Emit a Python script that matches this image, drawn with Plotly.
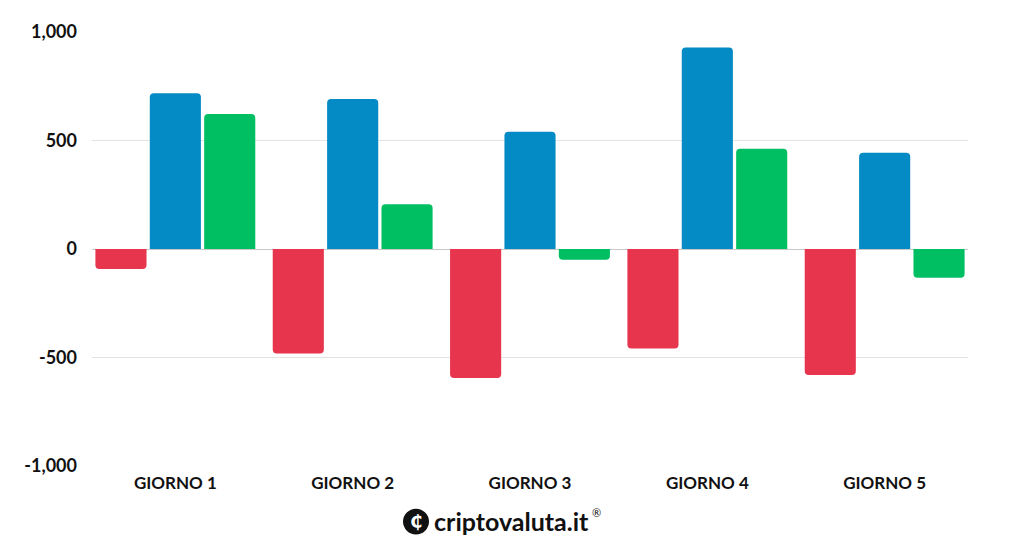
import plotly.graph_objects as go

categories = ["GIORNO 1", "GIORNO 2", "GIORNO 3", "GIORNO 4", "GIORNO 5"]
red_vals = [-92, -481, -595, -458, -581]
blue_vals = [718, 691, 540, 929, 444]
green_vals = [622, 206, -50, 462, -133]
tick_vals = [-1000, -500, 0, 500, 1000]
tick_text = ["-1,000", "-500", "0", "500", "1,000"]

FONT = "Lato"
# page has an 8px body offset; compensate in margins
L, T, R, B = 84, 21, 64, 88
W, H = 1024, 546
pw = W - L - R
ph = H - T - B

def px(x):
    return (x - 8 - L) / pw

def py(y):
    return 1 - (y - 8 - T) / ph

fig = go.Figure()
for vals, col in [(red_vals, "#E8354E"), (blue_vals, "#048AC4"), (green_vals, "#00BF63")]:
    fig.add_trace(go.Bar(x=categories, y=vals, marker=dict(color=col, line=dict(width=0)),
                         showlegend=False, hoverinfo="x+y"))

fig.update_layout(
    width=W, height=H,
    margin=dict(l=L, r=R, t=T, b=B),
    paper_bgcolor="white", plot_bgcolor="white",
    barmode="group", bargap=0.08, bargroupgap=0.06,
    barcornerradius=4,
    font=dict(family=FONT, color="#111111"),
    xaxis=dict(range=[-0.47, 4.47], showgrid=False, showline=False, ticks="",
               tickfont=dict(size=17, family=FONT, weight="bold", color="#111"),
               ticklabelstandoff=5),
    yaxis=dict(range=[-1000, 1000], tickvals=tick_vals, ticktext=tick_text,
               showgrid=True, gridcolor="#e3e3e3", gridwidth=1,
               zeroline=True, zerolinecolor="#c8c8c8", zerolinewidth=1,
               tickfont=dict(size=18, family=FONT, weight="bold", color="#111"),
               ticklabelstandoff=14, showline=False, ticks=""),
)

# logo
fig.add_shape(type="circle", xref="paper", yref="paper",
              x0=px(403), x1=px(429), y0=py(509), y1=py(535),
              fillcolor="#111", line=dict(width=0))
fig.add_annotation(xref="paper", yref="paper", x=px(416), y=py(522),
                   text="<b>₵</b>", showarrow=False,
                   font=dict(size=18, color="white", family="DejaVu Sans"),
                   xanchor="center", yanchor="middle")
fig.add_annotation(xref="paper", yref="paper", x=px(432), y=py(521),
                   text="criptovaluta.it", showarrow=False,
                   font=dict(size=25, color="#111", family=FONT, weight="bold"),
                   xanchor="left", yanchor="middle")
fig.add_annotation(xref="paper", yref="paper", x=px(590), y=py(513),
                   text="®", showarrow=False,
                   font=dict(size=11, color="#111", family=FONT),
                   xanchor="left", yanchor="middle")

fig.write_html("out.html")
